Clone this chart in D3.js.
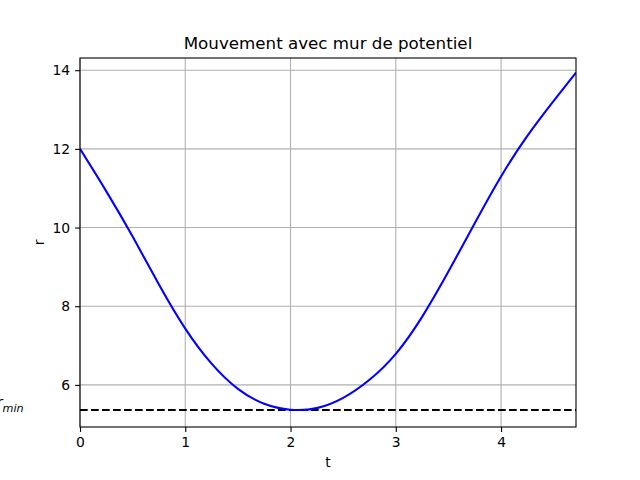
<!DOCTYPE html>
<html><head><meta charset="utf-8">
<script src="https://cdn.jsdelivr.net/npm/d3@7"></script>
<style>body{margin:0;background:#fff;} text{font-family:"DejaVu Sans",sans-serif;fill:#000;}</style>
</head><body>
<svg id="c" width="640" height="480"></svg>
<script>
const tVals = [0, 0.25, 0.5, 0.75, 1.0, 1.25, 1.5, 1.75, 2.0, 2.25, 2.5, 2.75, 3.0, 3.25, 3.5, 3.75, 4.0, 4.25, 4.5, 4.712];
const rVals = [12.00, 10.92, 9.77, 8.55, 7.43, 6.54, 5.90, 5.52, 5.37, 5.41, 5.67, 6.13, 6.79, 7.73, 8.88, 10.11, 11.30, 12.33, 13.22, 13.94];
const rMin = 5.36;
const xTicks = [0, 1, 2, 3, 4];
const yTicks = [6, 8, 10, 12, 14];
const xDomain = [0, 4.712];
const yDomain = [4.93, 14.31];

const svg = d3.select("#c");
const L = 80, R = 576, T = 58, B = 427;
const x = d3.scaleLinear().domain(xDomain).range([L, R]);
const y = d3.scaleLinear().domain(yDomain).range([B, T]);

// grid
const g = svg.append("g");
g.selectAll(".gx").data(xTicks).enter().append("line")
  .attr("x1", d => x(d)).attr("x2", d => x(d)).attr("y1", T).attr("y2", B)
  .attr("stroke", "#b0b0b0").attr("stroke-width", 1.1);
g.selectAll(".gy").data(yTicks).enter().append("line")
  .attr("y1", d => y(d)).attr("y2", d => y(d)).attr("x1", L).attr("x2", R)
  .attr("stroke", "#b0b0b0").attr("stroke-width", 1.1);

svg.append("clipPath").attr("id", "cp").append("rect")
  .attr("x", L).attr("y", T).attr("width", R - L).attr("height", B - T);

// dashed r_min line
svg.append("line").attr("x1", L).attr("x2", R).attr("y1", y(rMin)).attr("y2", y(rMin))
  .attr("stroke", "#000").attr("stroke-width", 2.08).attr("stroke-dasharray", "7.7,3.3");

// curve
const data = tVals.map((t, i) => [t, rVals[i]]);
svg.append("path").datum(data)
  .attr("clip-path", "url(#cp)")
  .attr("fill", "none").attr("stroke", "#0000ff").attr("stroke-width", 2.08)
  .attr("stroke-linejoin", "round")
  .attr("d", d3.line().x(d => x(d[0])).y(d => y(d[1])).curve(d3.curveNatural));

// axes
const xAxis = svg.append("g").attr("transform", `translate(0,${B})`)
  .call(d3.axisBottom(x).tickValues(xTicks).tickFormat(d3.format("d")).tickSize(4.9).tickPadding(4.9));
const yAxis = svg.append("g").attr("transform", `translate(${L},0)`)
  .call(d3.axisLeft(y).tickValues(yTicks).tickFormat(d3.format("d")).tickSize(4.9).tickPadding(4.9));
[xAxis, yAxis].forEach(a => {
  a.select(".domain").remove();
  a.selectAll("line").attr("stroke", "#000").attr("stroke-width", 1.1);
  a.selectAll("text").attr("fill", "#000").style("font-size", "13.9px").style("font-family", "DejaVu Sans");
});
xAxis.selectAll("text").attr("dy", "0.71em");

// frame
svg.append("rect").attr("x", L).attr("y", T).attr("width", R - L).attr("height", B - T)
  .attr("fill", "none").attr("stroke", "#000").attr("stroke-width", 1.1);

// labels
svg.append("text").attr("x", (L + R) / 2).attr("y", 49).attr("text-anchor", "middle")
  .style("font-size", "16.7px").text("Mouvement avec mur de potentiel");
svg.append("text").attr("x", (L + R) / 2).attr("y", 467).attr("text-anchor", "middle")
  .style("font-size", "13.9px").text("t");
svg.append("text").attr("transform", `translate(44,${(T + B) / 2}) rotate(-90)`).attr("text-anchor", "middle")
  .style("font-size", "13.9px").text("r");

const rl = svg.append("text").attr("x", -4).attr("y", 408).style("font-style", "italic").attr("fill", "#000");
rl.append("tspan").style("font-size", "16px").text("r");
rl.append("tspan").attr("dy", 4).style("font-size", "11.2px").text("min");
</script>
</body></html>
